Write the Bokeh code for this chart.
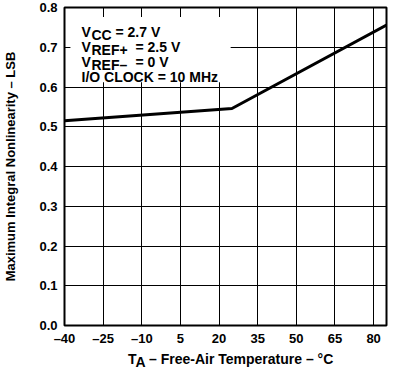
from bokeh.plotting import figure
from bokeh.models import FixedTicker, Label, BoxAnnotation, Range1d, Div
from bokeh.layouts import column
from bokeh.embed import file_html
from bokeh.resources import INLINE

# data
temps = [-40, 25, 85]
inl = [0.515, 0.546, 0.756]
x_ticks = [-40, -25, -10, 5, 20, 35, 50, 65, 80]
x_tick_labels = ["\u201340", "\u201325", "\u201310", "5", "20", "35", "50", "65", "80"]
y_ticks = [0.0, 0.1, 0.2, 0.3, 0.4, 0.5, 0.6, 0.7, 0.8]
y_tick_labels = ["0.0", "0.1", "0.2", "0.3", "0.4", "0.5", "0.6", "0.7", "0.8"]

FONT = "Liberation Sans"
FW, FH = 322, 318

p = figure(width=386, height=347, output_backend="svg", toolbar_location=None,
           x_range=Range1d(-40, 85), y_range=Range1d(0, 0.8),
           min_border_left=62, min_border_right=2, min_border_top=7, min_border_bottom=22)
p.frame_width = FW
p.frame_height = FH

p.outline_line_color = "black"
p.outline_line_width = 2

for ax in (p.xaxis[0], p.yaxis[0]):
    ax.major_tick_in = 0
    ax.major_tick_out = 0
    ax.minor_tick_in = 0
    ax.minor_tick_out = 0
    ax.axis_line_color = None
    ax.major_label_text_font = FONT
    ax.major_label_text_font_style = "bold"
    ax.major_label_text_font_size = "13px"
    ax.major_label_text_color = "black"

p.xaxis[0].ticker = FixedTicker(ticks=x_ticks)
p.xaxis[0].major_label_overrides = {t: l for t, l in zip(x_ticks, x_tick_labels)}
p.xaxis[0].major_label_standoff = 5
p.yaxis[0].ticker = FixedTicker(ticks=y_ticks)
p.yaxis[0].major_label_overrides = {t: l for t, l in zip(y_ticks, y_tick_labels)}
p.yaxis[0].major_label_standoff = 7

p.yaxis[0].axis_label = "Maximum Integral Nonlinearity \u2013 LSB"
p.yaxis[0].axis_label_text_font = FONT
p.yaxis[0].axis_label_text_font_style = "bold"
p.yaxis[0].axis_label_text_font_size = "13px"
p.yaxis[0].axis_label_text_color = "black"
p.yaxis[0].axis_label_standoff = 18

p.xgrid[0].ticker = FixedTicker(ticks=x_ticks)
p.ygrid[0].ticker = FixedTicker(ticks=y_ticks)
for g in (p.xgrid[0], p.ygrid[0]):
    g.grid_line_color = "black"
    g.grid_line_width = 1
    g.grid_line_alpha = 1

# white box behind the condition text
p.add_layout(BoxAnnotation(left=-37.7, right=24.5, top=0.776, bottom=0.612,
                           fill_color="white", fill_alpha=1, line_alpha=0))

p.line(temps, inl, line_color="black", line_width=3)

def lab(x, y, t, size="14px"):
    p.add_layout(Label(x=x, y=y, x_units="screen", y_units="screen", text=t,
                       text_font=FONT, text_font_style="bold", text_font_size=size,
                       text_color="black", text_baseline="alphabetic"))

# condition text (screen coords relative to frame)
base_y = FH - 24
subs = ["CC", "REF+", "REF\u2013"]
rest = ["= 2.7 V", "= 2.5 V", "= 0 V"]
rest_x = [51, 71, 71]
for i in range(3):
    y = base_y - i * 15
    lab(17, y, "V")
    lab(27, y - 3, subs[i])
    lab(rest_x[i], y, rest[i])
lab(17, base_y - 45, "I/O CLOCK = 10 MHz")

# x axis label with subscript
xlabel = Div(
    text=('<span style="font-family:\'Liberation Sans\';font-weight:bold;font-size:14px;color:black;'
          'white-space:nowrap;line-height:15px;">T<span style="position:relative;top:3px;">A</span>'
          ' \u2013 Free-Air Temperature \u2013 \u00b0C</span>'),
    width=386, height=15, margin=(4, 0, 0, 128))

layout = column(p, xlabel, spacing=0)
open("out.html", "w").write(file_html(layout, INLINE))
